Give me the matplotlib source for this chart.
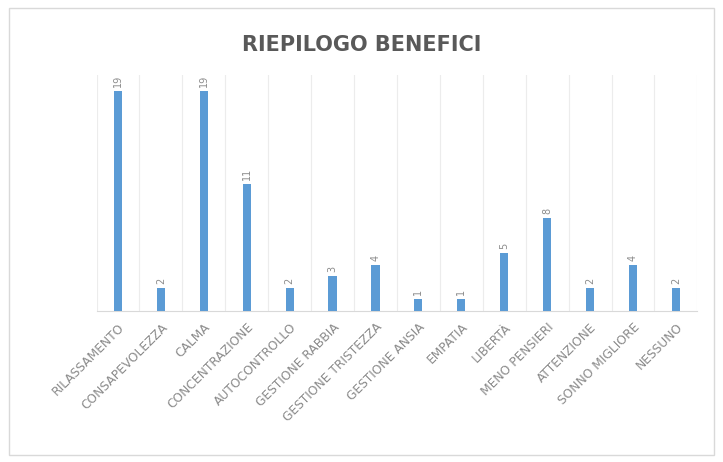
import numpy as np
import matplotlib.pyplot as plt
from matplotlib.patches import Rectangle

# -Dati----------------------------------------------------------------------#

categorie = ['RILASSAMENTO', 'CONSAPEVOLEZZA', 'CALMA', 'CONCENTRAZIONE',
             'AUTOCONTROLLO', 'GESTIONE RABBIA', 'GESTIONE TRISTEZZA',
             'GESTIONE ANSIA', 'EMPATIA', 'LIBERTÀ', 'MENO PENSIERI',
             'ATTENZIONE', 'SONNO MIGLIORE', 'NESSUNO']
valori = [19, 2, 19, 11, 2, 3, 4, 1, 1, 5, 8, 2, 4, 2]
titolo = 'RIEPILOGO BENEFICI'

# -Grafico-------------------------------------------------------------------#

fig = plt.figure(figsize=(7.23, 4.62), dpi=100)
fig.patches.append(Rectangle((0.012, 0.015), 0.975, 0.968, transform=fig.transFigure,
                             fill=False, edgecolor='#d9d9d9', lw=1))

ax = fig.add_axes([0.1335, 0.327, 0.831, 0.511])
x = np.arange(len(categorie))
ax.bar(x, valori, width=0.19, color='#5b9bd5', zorder=3)

for xi, v in zip(x, valori):
    ax.text(xi, v + 0.35, str(v), rotation=90, ha='center', va='bottom',
            fontsize=7, color='#8c8c8c')

ax.set_xlim(-0.5, len(categorie) - 0.5)
ax.set_ylim(0, 20.4)
ax.set_yticks([])
ax.set_xticks(x)
ax.set_xticklabels(categorie, rotation=45, ha='right', rotation_mode='anchor',
                   fontsize=8.8, color='#8a8a8a')
ax.tick_params(axis='x', length=0, pad=7)
ax.set_xticks(np.arange(-0.5, len(categorie)), minor=True)
ax.tick_params(axis='x', which='minor', length=0)
ax.grid(axis='x', which='minor', color='#ececec', lw=0.8, zorder=0)

for s in ['top', 'left', 'right']:
    ax.spines[s].set_visible(False)
ax.spines['bottom'].set_color('#d9d9d9')

fig.text(0.5, 0.903, titolo, ha='center', va='center', fontsize=15,
         fontweight='bold', color='#595959')

plt.savefig('out.png', dpi=100)
